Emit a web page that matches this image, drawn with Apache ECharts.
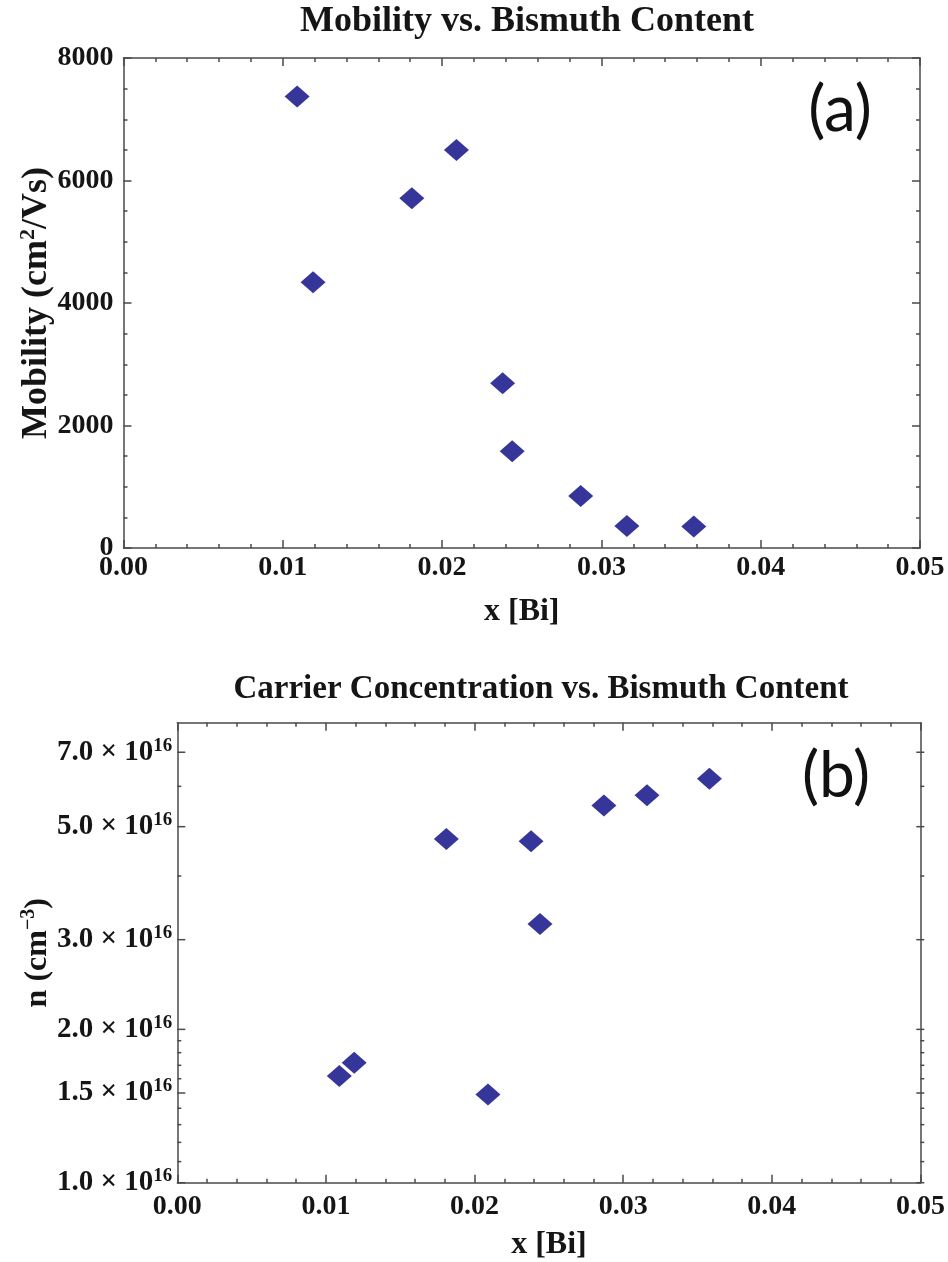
<!DOCTYPE html>
<html>
<head>
<meta charset="utf-8">
<script src="https://cdn.jsdelivr.net/npm/echarts@6/dist/echarts.min.js"></script>
<style>
  html, body { margin: 0; padding: 0; background: #fff; }
  #chart { width: 948px; height: 1262px; }
</style>
</head>
<body>
<div id="chart"></div>
<script>
// Bismuth content of each sample
const xBi = [0.0109, 0.0119, 0.0181, 0.0209, 0.0238, 0.0244, 0.0287, 0.0316, 0.0358];
// Hall mobility (cm^2/Vs)
const mobility = [7370, 4340, 5710, 6500, 2690, 1580, 850, 360, 350];
// Carrier concentration (cm^-3)
const carrier = [1.62e16, 1.72e16, 4.73e16, 1.49e16, 4.68e16, 3.22e16, 5.50e16, 5.76e16, 6.21e16];

// Log-axis tick positions for panel (b)
const nMajorTicks = [1.0e16, 1.5e16, 2.0e16, 3.0e16, 5.0e16, 7.0e16];
const nMinorTicks = [1.1e16, 1.2e16, 1.3e16, 1.4e16, 1.6e16, 1.7e16, 1.8e16, 1.9e16, 4.0e16, 6.0e16];

const SERIF = '"Liberation Serif", "Times New Roman", serif';
const FRAME = '#4a4a4a';
const TEXT = '#151515';
const MARK = '#36369a';

const G1 = { left: 123.5, top: 58, width: 796.5, height: 490 };
const G2 = { left: 177.3, top: 722.7, width: 747, height: 460 };

const chart = echarts.init(document.getElementById('chart'), null, { renderer: 'canvas' });

const lineStyle = { color: FRAME, width: 1.5 };
const labelStyle = { fontFamily: SERIF, fontWeight: 'bold', fontSize: 28, color: TEXT };

function xAxisPair(gridIndex, nameGap, labelMargin) {
  return [
    {
      gridIndex, type: 'value', position: 'bottom', min: 0, max: 0.05, interval: 0.01,
      axisLine: { show: true, lineStyle },
      axisTick: { show: true, inside: true, length: 8, lineStyle },
      minorTick: { show: true, splitNumber: 5, length: 4, lineStyle },
      splitLine: { show: false },
      axisLabel: Object.assign({ margin: labelMargin, formatter: v => v.toFixed(2) }, labelStyle),
      name: 'x [Bi]', nameLocation: 'middle', nameGap, nameMoveOverlap: false,
      nameTextStyle: { fontFamily: SERIF, fontWeight: 'bold', fontSize: 32, color: TEXT }
    },
    {
      gridIndex, type: 'value', position: 'top', min: 0, max: 0.05, interval: 0.01,
      axisLine: { show: true, onZero: false, lineStyle },
      axisTick: { show: true, inside: true, length: 8, lineStyle },
      minorTick: { show: true, splitNumber: 5, length: 4, lineStyle },
      splitLine: { show: false },
      axisLabel: { show: false }
    }
  ];
}

const option = {
  animation: false,
  backgroundColor: '#fff',
  title: [
    { text: 'Mobility vs. Bismuth Content', left: 522, top: -1, textAlign: 'center',
      textStyle: { fontFamily: SERIF, fontWeight: 'bold', fontSize: 36, color: TEXT } },
    { text: 'Carrier Concentration vs. Bismuth Content', left: 536, top: 668, textAlign: 'center',
      textStyle: { fontFamily: SERIF, fontWeight: 'bold', fontSize: 33, color: TEXT } },
    { text: '(a)', left: 835, top: 73, textAlign: 'center',
      textStyle: { fontFamily: 'Lato, "Open Sans", sans-serif', fontWeight: 'normal', fontSize: 64, color: '#111' } },
    { text: '(b)', left: 831, top: 739, textAlign: 'center',
      textStyle: { fontFamily: 'Lato, "Open Sans", sans-serif', fontWeight: 'normal', fontSize: 64, color: '#111' } }
  ],
  grid: [
    Object.assign({ containLabel: false }, G1),
    Object.assign({ containLabel: false }, G2)
  ],
  xAxis: [].concat(xAxisPair(0, 48, 6), xAxisPair(1, 46, 10)),
  yAxis: [
    {
      gridIndex: 0, type: 'value', position: 'left', min: 0, max: 8000, interval: 2000,
      axisLine: { show: true, lineStyle },
      axisTick: { show: true, inside: true, length: 8, lineStyle },
      minorTick: { show: true, splitNumber: 4, length: 4, lineStyle },
      splitLine: { show: false },
      axisLabel: Object.assign({ margin: 10, formatter: v => String(v) }, labelStyle),
      name: '{a|Mobility (cm}{s|2}{a|/Vs)}', nameLocation: 'middle', nameGap: 68,
      nameMoveOverlap: false,
      nameTextStyle: {
        rich: {
          a: { fontFamily: SERIF, fontWeight: 'bold', fontSize: 36, color: TEXT, lineHeight: 38 },
          s: { fontFamily: SERIF, fontWeight: 'bold', fontSize: 22, color: TEXT, verticalAlign: 'top', lineHeight: 38 }
        }
      }
    },
    {
      gridIndex: 0, type: 'value', position: 'right', min: 0, max: 8000, interval: 2000,
      axisLine: { show: true, onZero: false, lineStyle },
      axisTick: { show: true, inside: true, length: 8, lineStyle },
      minorTick: { show: true, splitNumber: 4, length: 4, lineStyle },
      splitLine: { show: false },
      axisLabel: { show: false }
    },
    {
      gridIndex: 1, type: 'log', logBase: 10, position: 'left', min: 1e16, max: 8e16,
      axisLine: { show: true, lineStyle },
      axisTick: { show: false },
      splitLine: { show: false },
      axisLabel: { show: false },
      name: '{a|n (cm}{s|−3}{a|)}', nameLocation: 'middle', nameGap: 122,
      nameMoveOverlap: false,
      nameTextStyle: {
        rich: {
          a: { fontFamily: SERIF, fontWeight: 'bold', fontSize: 32, color: TEXT, lineHeight: 36 },
          s: { fontFamily: SERIF, fontWeight: 'bold', fontSize: 20, color: TEXT, verticalAlign: 'top', lineHeight: 36 }
        }
      }
    },
    {
      gridIndex: 1, type: 'log', logBase: 10, position: 'right', min: 1e16, max: 8e16,
      axisLine: { show: true, onZero: false, lineStyle },
      axisTick: { show: false },
      splitLine: { show: false },
      axisLabel: { show: false }
    }
  ],
  series: [
    {
      type: 'scatter', xAxisIndex: 0, yAxisIndex: 0,
      symbol: 'diamond', symbolSize: [25, 22],
      itemStyle: { color: MARK, opacity: 1 },
      data: xBi.map((x, i) => [x, mobility[i]])
    },
    {
      type: 'scatter', xAxisIndex: 2, yAxisIndex: 2,
      symbol: 'diamond', symbolSize: [25, 22],
      itemStyle: { color: MARK, opacity: 1 },
      data: xBi.map((x, i) => [x, carrier[i]])
    }
  ]
};

chart.setOption(option);

// Ticks and labels of the logarithmic axis, placed through the axis scale
const graphics = [];
const xl = G2.left, xr = G2.left + G2.width;
function addTick(v, len) {
  const y = chart.convertToPixel({ yAxisIndex: 2 }, v);
  graphics.push({ type: 'line', silent: true, shape: { x1: xl, y1: y, x2: xl + len, y2: y }, style: { stroke: FRAME, lineWidth: 1.5 } });
  graphics.push({ type: 'line', silent: true, shape: { x1: xr - len, y1: y, x2: xr, y2: y }, style: { stroke: FRAME, lineWidth: 1.5 } });
  return y;
}
nMinorTicks.forEach(v => addTick(v, 4));
nMajorTicks.forEach(v => {
  const y = addTick(v, 8);
  graphics.push({
    type: 'text', silent: true, x: xl - 5, y: y,
    style: {
      text: '{m|' + (v / 1e16).toFixed(1) + ' × 10}{e|16}',
      align: 'right', verticalAlign: 'middle',
      rich: {
        m: { fontFamily: SERIF, fontWeight: 'bold', fontSize: 29, fill: TEXT, lineHeight: 32 },
        e: { fontFamily: SERIF, fontWeight: 'bold', fontSize: 19, fill: TEXT, verticalAlign: 'top', lineHeight: 32 }
      }
    }
  });
});
chart.setOption({ graphic: graphics });
</script>
</body>
</html>
